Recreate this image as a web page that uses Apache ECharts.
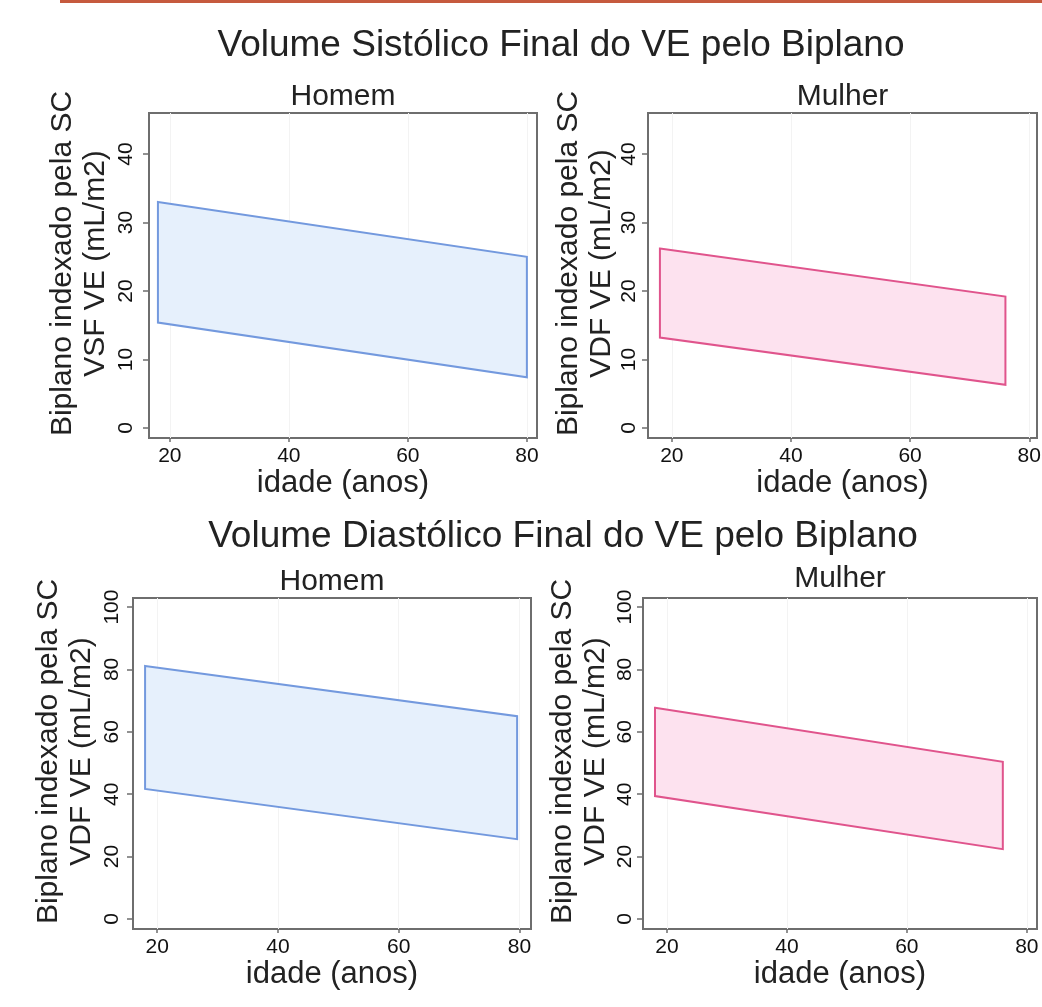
<!DOCTYPE html>
<html>
<head>
<meta charset="utf-8">
<title>Volume Sistólico / Diastólico Final do VE pelo Biplano</title>
<script src="https://cdn.jsdelivr.net/npm/echarts@6/dist/echarts.min.js"></script>
<style>
  html, body { margin: 0; padding: 0; background: #fff; }
  #chart { width: 1042px; height: 1007px; }
</style>
</head>
<body>
<div id="chart"></div>
<script>
// tick labels
const ageTicks = [20, 40, 60, 80];
const vsfTicks = [0, 10, 20, 30, 40];
const vdfTicks = [0, 20, 40, 60, 80, 100];

// VSF (end-systolic) bands, indexed by BSA
const vsfHomemAge = [18, 80];
const vsfHomemUpper = [33.0, 25.0];
const vsfHomemLower = [15.4, 7.4];

const vsfMulherAge = [18, 76];
const vsfMulherUpper = [26.2, 19.2];
const vsfMulherLower = [13.2, 6.3];

// VDF (end-diastolic) bands
const vdfHomemAge = [18, 79.6];
const vdfHomemUpper = [81.1, 65.0];
const vdfHomemLower = [41.7, 25.6];

const vdfMulherAge = [18, 76];
const vdfMulherUpper = [67.7, 50.4];
const vdfMulherLower = [39.4, 22.4];

const FONT = "'Liberation Sans', Arial, Helvetica, sans-serif";
const TXT = '#222';
const BOX = '#6e6e6e';
const BLUE = { stroke: '#7399de', fill: '#e6f0fc' };
const PINK = { stroke: '#e0548c', fill: '#fde2ef' };

const panels = [
  { grid: { left: 149, top: 113, width: 388, height: 325 }, xMin: 16.5, xMax: 81.7, yMin: -1.46, yMax: 46.0,
    yTicks: vsfTicks, yName: 'Biplano indexado pela SC\nVSF VE (mL/m2)', nameGap: 37, labelMargin: 12,
    title: 'Homem', titleY: 97, ages: vsfHomemAge, upper: vsfHomemUpper, lower: vsfHomemLower, col: BLUE },
  { grid: { left: 648, top: 113, width: 389, height: 325 }, xMin: 16, xMax: 81.3, yMin: -1.46, yMax: 46.0,
    yTicks: vsfTicks, yName: 'Biplano indexado pela SC\nVDF VE (mL/m2)', nameGap: 30, labelMargin: 8,
    title: 'Mulher', titleY: 97, ages: vsfMulherAge, upper: vsfMulherUpper, lower: vsfMulherLower, col: PINK },
  { grid: { left: 133, top: 598, width: 398, height: 331 }, xMin: 16, xMax: 81.9, yMin: -3.2, yMax: 102.9,
    yTicks: vdfTicks, yName: 'Biplano indexado pela SC\nVDF VE (mL/m2)', nameGap: 35, labelMargin: 10,
    title: 'Homem', titleY: 582, ages: vdfHomemAge, upper: vdfHomemUpper, lower: vdfHomemLower, col: BLUE },
  { grid: { left: 643, top: 598, width: 394, height: 331 }, xMin: 16, xMax: 81.7, yMin: -3.2, yMax: 102.9,
    yTicks: vdfTicks, yName: 'Biplano indexado pela SC\nVDF VE (mL/m2)', nameGap: 31, labelMargin: 7,
    title: 'Mulher', titleY: 579, ages: vdfMulherAge, upper: vdfMulherUpper, lower: vdfMulherLower, col: PINK }
];

const grids = [], xAxes = [], yAxes = [], series = [], texts = [];

panels.forEach(function (p, i) {
  grids.push(Object.assign({
    show: true, borderColor: BOX, borderWidth: 2, backgroundColor: '#fff',
    containLabel: false, outerBoundsMode: 'none'
  }, p.grid));

  xAxes.push({
    type: 'value', gridIndex: i, min: p.xMin, max: p.xMax, position: 'bottom',
    name: 'idade (anos)', nameLocation: 'middle', nameGap: 30, nameMoveOverlap: false,
    nameTextStyle: { fontFamily: FONT, fontSize: 31, color: TXT },
    axisLine: { show: false, onZero: false },
    axisTick: { show: true, inside: false, length: 4, customValues: ageTicks, lineStyle: { color: BOX, width: 1.5 } },
    axisLabel: { customValues: ageTicks, margin: 8, fontFamily: FONT, fontSize: 21, color: '#111' },
    splitLine: { show: true, lineStyle: { color: '#f3f3f3', width: 1 } }
  });

  yAxes.push({
    type: 'value', gridIndex: i, min: p.yMin, max: p.yMax, position: 'left',
    name: p.yName, nameLocation: 'middle', nameGap: p.nameGap, nameRotate: 90, nameMoveOverlap: false,
    nameTextStyle: { fontFamily: FONT, fontSize: 30, color: TXT, lineHeight: 33, padding: [0, 0, 0, 24] },
    axisLine: { show: false, onZero: false },
    axisTick: { show: true, inside: false, length: 6, customValues: p.yTicks, lineStyle: { color: BOX, width: 1.5 } },
    axisLabel: { customValues: p.yTicks, rotate: 90, margin: p.labelMargin, fontFamily: FONT, fontSize: 21, color: '#111' },
    splitLine: { show: false }
  });

  const ages = p.ages, upper = p.upper, lower = p.lower, col = p.col;
  series.push({
    type: 'custom', xAxisIndex: i, yAxisIndex: i, silent: true,
    data: [[ages[0], upper[0]], [ages[1], upper[1]], [ages[1], lower[1]], [ages[0], lower[0]]],
    renderItem: function (params, api) {
      if (params.dataIndex !== 0) return null;
      const pts = [
        api.coord([ages[0], upper[0]]),
        api.coord([ages[1], upper[1]]),
        api.coord([ages[1], lower[1]]),
        api.coord([ages[0], lower[0]])
      ];
      return {
        type: 'polygon',
        shape: { points: pts },
        style: { fill: col.fill, stroke: col.stroke, lineWidth: 2 }
      };
    }
  });

  texts.push({
    type: 'text', x: p.grid.left + p.grid.width / 2, y: p.titleY,
    style: { text: p.title, fontFamily: FONT, fontSize: 30, fill: TXT, align: 'center', verticalAlign: 'middle' }
  });
});

// main titles
texts.push({
  type: 'text', x: 561, y: 46,
  style: { text: 'Volume Sistólico Final do VE pelo Biplano', fontFamily: FONT, fontSize: 37, fill: TXT, align: 'center', verticalAlign: 'middle' }
});
texts.push({
  type: 'text', x: 563, y: 537,
  style: { text: 'Volume Diastólico Final do VE pelo Biplano', fontFamily: FONT, fontSize: 37, fill: TXT, align: 'center', verticalAlign: 'middle' }
});
// orange rule at the very top
texts.push({ type: 'rect', shape: { x: 60, y: 0, width: 982, height: 3 }, style: { fill: '#c65a3e' } });

const chart = echarts.init(document.getElementById('chart'));
chart.setOption({
  animation: false,
  backgroundColor: '#fff',
  grid: grids,
  xAxis: xAxes,
  yAxis: yAxes,
  series: series,
  graphic: texts
});
</script>
</body>
</html>
